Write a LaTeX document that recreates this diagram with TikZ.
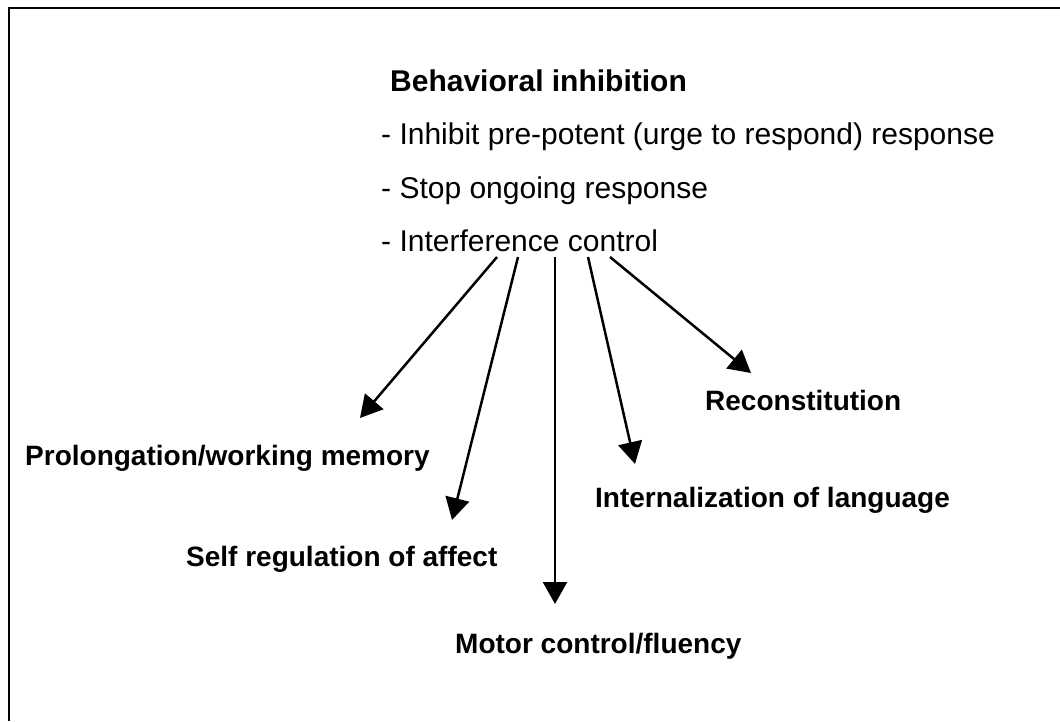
\documentclass[tikz,border=0pt]{standalone}
\usepackage{fontspec}
\setmainfont{Liberation Sans}
\usetikzlibrary{arrows.meta}
\begin{document}
\begin{tikzpicture}[x=1pt,y=-1pt,
  title/.style={anchor=base west, inner sep=0pt, font=\fontsize{30}{36}\selectfont\bfseries},
  reg/.style={anchor=base west, inner sep=0pt, font=\fontsize{30}{36}\selectfont},
  lab/.style={anchor=base west, inner sep=0pt, font=\fontsize{28}{34}\selectfont\bfseries},
  arr/.style={line width=2.5pt, -{Triangle[length=22pt,width=24pt]}},
  frame/.style={line width=2pt}]
\useasboundingbox (0,0) rectangle (1060,721);
\fill[white] (0,0) rectangle (1060,721);
\coordinate (fb) at (9,721);
\coordinate (fc) at (9,8);
\coordinate (fr) at (1060,8);
\draw[frame] (fb) -- (fc) -- (fr);

\node[title] (bi) at (390,91) {Behavioral inhibition};
\node[reg] (l1) at (381,144) {- Inhibit pre-potent (urge to respond) response};
\node[reg] (l2) at (381,198) {- Stop ongoing response};
\node[reg] (l3) at (381,251) {- Interference control};

\node[lab] (rec) at (705,410) {Reconstitution};
\node[lab] (pro) at (25,465) {Prolongation/working memory};
\node[lab] (int) at (595,507) {Internalization of language};
\node[lab] (sel) at (186,566) {Self regulation of affect};
\node[lab] (mot) at (455,653) {Motor control/fluency};

\coordinate (s1) at (497,257);
\coordinate (s2) at (518,257);
\coordinate (s3) at (555,257);
\coordinate (s4) at (588,257);
\coordinate (s5) at (610,257);
\coordinate (t1) at (360,418);
\coordinate (t2) at (452,520);
\coordinate (t3) at (555,604);
\coordinate (t4) at (635,464);
\coordinate (t5) at (751,373);

\draw[arr] (s1) -- (t1);
\draw[arr] (s2) -- (t2);
\draw[arr] (s3) -- (t3);
\draw[arr] (s4) -- (t4);
\draw[arr] (s5) -- (t5);
\end{tikzpicture}
\end{document}
